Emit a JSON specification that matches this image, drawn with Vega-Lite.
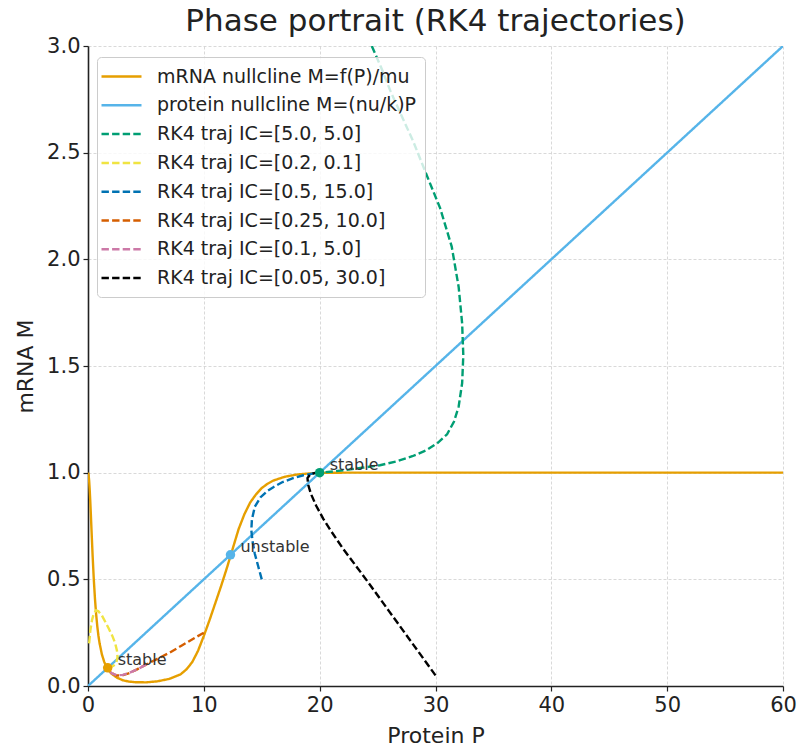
{
  "$schema": "https://vega.github.io/schema/vega-lite/v6.json",
  "autosize": {"type": "none"},
  "width": 695,
  "height": 640,
  "padding": {"left": 88, "top": 46, "right": 16, "bottom": 61},
  "background": "white",
  "view": {"stroke": null},
  "config": {
    "font": "DejaVu Sans",
    "axis": {
      "labelFont": "DejaVu Sans", "titleFont": "DejaVu Sans",
      "labelFontSize": 21, "titleFontSize": 22, "titleFontWeight": "normal",
      "labelColor": "#222", "titleColor": "#222",
      "tickColor": "#222", "tickSize": 5, "tickWidth": 1.2,
      "domainColor": "#222", "domainWidth": 1.6,
      "gridColor": "#cfcfcf", "gridDash": [3, 2], "gridWidth": 0.8,
      "labelFlush": false, "labelOverlap": false
    }
  },
  "title": {
    "text": "Phase portrait (RK4 trajectories)",
    "font": "DejaVu Sans", "fontSize": 31, "fontWeight": "normal", "color": "#222",
    "frame": "group", "anchor": "middle", "offset": -3
  },
  "layer": [
    {
      "data": {"values": [
        {"s":"mRNA nullcline M=f(P)/mu","i":0,"P":0,"M":1.0},
        {"s":"mRNA nullcline M=f(P)/mu","i":1,"P":0.05,"M":0.99},
        {"s":"mRNA nullcline M=f(P)/mu","i":2,"P":0.1,"M":0.962},
        {"s":"mRNA nullcline M=f(P)/mu","i":3,"P":0.15,"M":0.917},
        {"s":"mRNA nullcline M=f(P)/mu","i":4,"P":0.2,"M":0.862},
        {"s":"mRNA nullcline M=f(P)/mu","i":5,"P":0.25,"M":0.8},
        {"s":"mRNA nullcline M=f(P)/mu","i":6,"P":0.3,"M":0.735},
        {"s":"mRNA nullcline M=f(P)/mu","i":7,"P":0.4,"M":0.61},
        {"s":"mRNA nullcline M=f(P)/mu","i":8,"P":0.5,"M":0.5},
        {"s":"mRNA nullcline M=f(P)/mu","i":9,"P":0.6,"M":0.41},
        {"s":"mRNA nullcline M=f(P)/mu","i":10,"P":0.7,"M":0.338},
        {"s":"mRNA nullcline M=f(P)/mu","i":11,"P":0.8,"M":0.281},
        {"s":"mRNA nullcline M=f(P)/mu","i":12,"P":0.9,"M":0.236},
        {"s":"mRNA nullcline M=f(P)/mu","i":13,"P":1.0,"M":0.2},
        {"s":"mRNA nullcline M=f(P)/mu","i":14,"P":1.2,"M":0.148},
        {"s":"mRNA nullcline M=f(P)/mu","i":15,"P":1.4,"M":0.113},
        {"s":"mRNA nullcline M=f(P)/mu","i":16,"P":1.6,"M":0.089},
        {"s":"mRNA nullcline M=f(P)/mu","i":17,"P":1.8,"M":0.072},
        {"s":"mRNA nullcline M=f(P)/mu","i":18,"P":2.0,"M":0.059},
        {"s":"mRNA nullcline M=f(P)/mu","i":19,"P":2.5,"M":0.039},
        {"s":"mRNA nullcline M=f(P)/mu","i":20,"P":3.0,"M":0.027},
        {"s":"mRNA nullcline M=f(P)/mu","i":21,"P":3.5,"M":0.021},
        {"s":"mRNA nullcline M=f(P)/mu","i":22,"P":4.0,"M":0.018},
        {"s":"mRNA nullcline M=f(P)/mu","i":23,"P":5.0,"M":0.017},
        {"s":"mRNA nullcline M=f(P)/mu","i":24,"P":6.0,"M":0.022},
        {"s":"mRNA nullcline M=f(P)/mu","i":25,"P":7.0,"M":0.033},
        {"s":"mRNA nullcline M=f(P)/mu","i":26,"P":8.0,"M":0.055},
        {"s":"mRNA nullcline M=f(P)/mu","i":27,"P":8.5,"M":0.078},
        {"s":"mRNA nullcline M=f(P)/mu","i":28,"P":9.0,"M":0.112},
        {"s":"mRNA nullcline M=f(P)/mu","i":29,"P":9.5,"M":0.165},
        {"s":"mRNA nullcline M=f(P)/mu","i":30,"P":10.0,"M":0.235},
        {"s":"mRNA nullcline M=f(P)/mu","i":31,"P":10.5,"M":0.31},
        {"s":"mRNA nullcline M=f(P)/mu","i":32,"P":11.0,"M":0.39},
        {"s":"mRNA nullcline M=f(P)/mu","i":33,"P":11.5,"M":0.47},
        {"s":"mRNA nullcline M=f(P)/mu","i":34,"P":12.0,"M":0.555},
        {"s":"mRNA nullcline M=f(P)/mu","i":35,"P":12.5,"M":0.645},
        {"s":"mRNA nullcline M=f(P)/mu","i":36,"P":13.0,"M":0.735},
        {"s":"mRNA nullcline M=f(P)/mu","i":37,"P":13.5,"M":0.805},
        {"s":"mRNA nullcline M=f(P)/mu","i":38,"P":14.0,"M":0.86},
        {"s":"mRNA nullcline M=f(P)/mu","i":39,"P":14.5,"M":0.898},
        {"s":"mRNA nullcline M=f(P)/mu","i":40,"P":15.0,"M":0.928},
        {"s":"mRNA nullcline M=f(P)/mu","i":41,"P":15.5,"M":0.948},
        {"s":"mRNA nullcline M=f(P)/mu","i":42,"P":16.0,"M":0.963},
        {"s":"mRNA nullcline M=f(P)/mu","i":43,"P":17.0,"M":0.981},
        {"s":"mRNA nullcline M=f(P)/mu","i":44,"P":18.0,"M":0.991},
        {"s":"mRNA nullcline M=f(P)/mu","i":45,"P":19.0,"M":0.996},
        {"s":"mRNA nullcline M=f(P)/mu","i":46,"P":20.0,"M":0.999},
        {"s":"mRNA nullcline M=f(P)/mu","i":47,"P":22.0,"M":1.0},
        {"s":"mRNA nullcline M=f(P)/mu","i":48,"P":60.0,"M":1.0},
        {"s":"protein nullcline M=(nu/k)P","i":0,"P":0,"M":0},
        {"s":"protein nullcline M=(nu/k)P","i":1,"P":60,"M":3.0},
        {"s":"RK4 traj IC=[5.0, 5.0]","i":0,"P":24.5,"M":3.0},
        {"s":"RK4 traj IC=[5.0, 5.0]","i":1,"P":25.3,"M":2.9},
        {"s":"RK4 traj IC=[5.0, 5.0]","i":2,"P":26.1,"M":2.79},
        {"s":"RK4 traj IC=[5.0, 5.0]","i":3,"P":27.1,"M":2.67},
        {"s":"RK4 traj IC=[5.0, 5.0]","i":4,"P":28.1,"M":2.55},
        {"s":"RK4 traj IC=[5.0, 5.0]","i":5,"P":29.2,"M":2.4},
        {"s":"RK4 traj IC=[5.0, 5.0]","i":6,"P":30.4,"M":2.24},
        {"s":"RK4 traj IC=[5.0, 5.0]","i":7,"P":31.4,"M":2.06},
        {"s":"RK4 traj IC=[5.0, 5.0]","i":8,"P":32.0,"M":1.87},
        {"s":"RK4 traj IC=[5.0, 5.0]","i":9,"P":32.3,"M":1.7},
        {"s":"RK4 traj IC=[5.0, 5.0]","i":10,"P":32.4,"M":1.55},
        {"s":"RK4 traj IC=[5.0, 5.0]","i":11,"P":32.3,"M":1.42},
        {"s":"RK4 traj IC=[5.0, 5.0]","i":12,"P":32.0,"M":1.31},
        {"s":"RK4 traj IC=[5.0, 5.0]","i":13,"P":31.6,"M":1.24},
        {"s":"RK4 traj IC=[5.0, 5.0]","i":14,"P":31.0,"M":1.18},
        {"s":"RK4 traj IC=[5.0, 5.0]","i":15,"P":30.2,"M":1.14},
        {"s":"RK4 traj IC=[5.0, 5.0]","i":16,"P":29.2,"M":1.105},
        {"s":"RK4 traj IC=[5.0, 5.0]","i":17,"P":28.0,"M":1.077},
        {"s":"RK4 traj IC=[5.0, 5.0]","i":18,"P":26.6,"M":1.052},
        {"s":"RK4 traj IC=[5.0, 5.0]","i":19,"P":25.2,"M":1.035},
        {"s":"RK4 traj IC=[5.0, 5.0]","i":20,"P":23.8,"M":1.024},
        {"s":"RK4 traj IC=[5.0, 5.0]","i":21,"P":22.5,"M":1.014},
        {"s":"RK4 traj IC=[5.0, 5.0]","i":22,"P":21.2,"M":1.006},
        {"s":"RK4 traj IC=[5.0, 5.0]","i":23,"P":20.0,"M":1.0},
        {"s":"RK4 traj IC=[0.2, 0.1]","i":0,"P":0.1,"M":0.2},
        {"s":"RK4 traj IC=[0.2, 0.1]","i":1,"P":0.2,"M":0.26},
        {"s":"RK4 traj IC=[0.2, 0.1]","i":2,"P":0.35,"M":0.31},
        {"s":"RK4 traj IC=[0.2, 0.1]","i":3,"P":0.5,"M":0.34},
        {"s":"RK4 traj IC=[0.2, 0.1]","i":4,"P":0.7,"M":0.355},
        {"s":"RK4 traj IC=[0.2, 0.1]","i":5,"P":0.9,"M":0.35},
        {"s":"RK4 traj IC=[0.2, 0.1]","i":6,"P":1.2,"M":0.33},
        {"s":"RK4 traj IC=[0.2, 0.1]","i":7,"P":1.5,"M":0.3},
        {"s":"RK4 traj IC=[0.2, 0.1]","i":8,"P":1.8,"M":0.268},
        {"s":"RK4 traj IC=[0.2, 0.1]","i":9,"P":2.1,"M":0.235},
        {"s":"RK4 traj IC=[0.2, 0.1]","i":10,"P":2.35,"M":0.2},
        {"s":"RK4 traj IC=[0.2, 0.1]","i":11,"P":2.5,"M":0.165},
        {"s":"RK4 traj IC=[0.2, 0.1]","i":12,"P":2.55,"M":0.135},
        {"s":"RK4 traj IC=[0.2, 0.1]","i":13,"P":2.45,"M":0.11},
        {"s":"RK4 traj IC=[0.2, 0.1]","i":14,"P":2.2,"M":0.095},
        {"s":"RK4 traj IC=[0.2, 0.1]","i":15,"P":1.95,"M":0.089},
        {"s":"RK4 traj IC=[0.2, 0.1]","i":16,"P":1.7,"M":0.085},
        {"s":"RK4 traj IC=[0.5, 15.0]","i":0,"P":15.0,"M":0.5},
        {"s":"RK4 traj IC=[0.5, 15.0]","i":1,"P":14.7,"M":0.56},
        {"s":"RK4 traj IC=[0.5, 15.0]","i":2,"P":14.4,"M":0.62},
        {"s":"RK4 traj IC=[0.5, 15.0]","i":3,"P":14.2,"M":0.68},
        {"s":"RK4 traj IC=[0.5, 15.0]","i":4,"P":14.1,"M":0.73},
        {"s":"RK4 traj IC=[0.5, 15.0]","i":5,"P":14.15,"M":0.78},
        {"s":"RK4 traj IC=[0.5, 15.0]","i":6,"P":14.4,"M":0.84},
        {"s":"RK4 traj IC=[0.5, 15.0]","i":7,"P":14.9,"M":0.885},
        {"s":"RK4 traj IC=[0.5, 15.0]","i":8,"P":15.5,"M":0.915},
        {"s":"RK4 traj IC=[0.5, 15.0]","i":9,"P":16.0,"M":0.932},
        {"s":"RK4 traj IC=[0.5, 15.0]","i":10,"P":16.8,"M":0.956},
        {"s":"RK4 traj IC=[0.5, 15.0]","i":11,"P":17.7,"M":0.974},
        {"s":"RK4 traj IC=[0.5, 15.0]","i":12,"P":18.6,"M":0.988},
        {"s":"RK4 traj IC=[0.5, 15.0]","i":13,"P":19.4,"M":0.996},
        {"s":"RK4 traj IC=[0.5, 15.0]","i":14,"P":20.0,"M":1.0},
        {"s":"RK4 traj IC=[0.25, 10.0]","i":0,"P":10.0,"M":0.25},
        {"s":"RK4 traj IC=[0.25, 10.0]","i":1,"P":9.2,"M":0.225},
        {"s":"RK4 traj IC=[0.25, 10.0]","i":2,"P":8.1,"M":0.19},
        {"s":"RK4 traj IC=[0.25, 10.0]","i":3,"P":7.0,"M":0.155},
        {"s":"RK4 traj IC=[0.25, 10.0]","i":4,"P":5.9,"M":0.125},
        {"s":"RK4 traj IC=[0.25, 10.0]","i":5,"P":5.0,"M":0.1},
        {"s":"RK4 traj IC=[0.25, 10.0]","i":6,"P":4.2,"M":0.077},
        {"s":"RK4 traj IC=[0.25, 10.0]","i":7,"P":3.5,"M":0.059},
        {"s":"RK4 traj IC=[0.25, 10.0]","i":8,"P":2.9,"M":0.049},
        {"s":"RK4 traj IC=[0.25, 10.0]","i":9,"P":2.4,"M":0.05},
        {"s":"RK4 traj IC=[0.25, 10.0]","i":10,"P":2.0,"M":0.063},
        {"s":"RK4 traj IC=[0.25, 10.0]","i":11,"P":1.7,"M":0.085},
        {"s":"RK4 traj IC=[0.1, 5.0]","i":0,"P":5.0,"M":0.1},
        {"s":"RK4 traj IC=[0.1, 5.0]","i":1,"P":4.5,"M":0.085},
        {"s":"RK4 traj IC=[0.1, 5.0]","i":2,"P":4.0,"M":0.072},
        {"s":"RK4 traj IC=[0.1, 5.0]","i":3,"P":3.5,"M":0.06},
        {"s":"RK4 traj IC=[0.1, 5.0]","i":4,"P":3.0,"M":0.052},
        {"s":"RK4 traj IC=[0.1, 5.0]","i":5,"P":2.5,"M":0.05},
        {"s":"RK4 traj IC=[0.1, 5.0]","i":6,"P":2.1,"M":0.058},
        {"s":"RK4 traj IC=[0.1, 5.0]","i":7,"P":1.85,"M":0.07},
        {"s":"RK4 traj IC=[0.1, 5.0]","i":8,"P":1.7,"M":0.085},
        {"s":"RK4 traj IC=[0.05, 30.0]","i":0,"P":30.0,"M":0.05},
        {"s":"RK4 traj IC=[0.05, 30.0]","i":1,"P":28.0,"M":0.2},
        {"s":"RK4 traj IC=[0.05, 30.0]","i":2,"P":26.0,"M":0.35},
        {"s":"RK4 traj IC=[0.05, 30.0]","i":3,"P":24.0,"M":0.5},
        {"s":"RK4 traj IC=[0.05, 30.0]","i":4,"P":22.0,"M":0.645},
        {"s":"RK4 traj IC=[0.05, 30.0]","i":5,"P":21.0,"M":0.725},
        {"s":"RK4 traj IC=[0.05, 30.0]","i":6,"P":20.3,"M":0.785},
        {"s":"RK4 traj IC=[0.05, 30.0]","i":7,"P":19.7,"M":0.845},
        {"s":"RK4 traj IC=[0.05, 30.0]","i":8,"P":19.25,"M":0.9},
        {"s":"RK4 traj IC=[0.05, 30.0]","i":9,"P":19.0,"M":0.945},
        {"s":"RK4 traj IC=[0.05, 30.0]","i":10,"P":18.95,"M":0.975},
        {"s":"RK4 traj IC=[0.05, 30.0]","i":11,"P":19.2,"M":0.993},
        {"s":"RK4 traj IC=[0.05, 30.0]","i":12,"P":19.6,"M":0.999},
        {"s":"RK4 traj IC=[0.05, 30.0]","i":13,"P":20.0,"M":1.0}
      ]},
      "mark": {"type": "line", "strokeWidth": 2.4, "clip": true},
      "encoding": {
        "x": {"field": "P", "type": "quantitative", "title": "Protein P",
              "scale": {"domain": [0, 60], "nice": false, "zero": false},
              "axis": {"values": [0, 10, 20, 30, 40, 50, 60], "labelPadding": 3, "titleY": 56, "titleBaseline": "alphabetic"}},
        "y": {"field": "M", "type": "quantitative", "title": "mRNA M",
              "scale": {"domain": [0, 3], "nice": false, "zero": false},
              "axis": {"values": [0, 0.5, 1, 1.5, 2, 2.5, 3], "format": ".1f", "labelPadding": 3, "titleX": -56, "titleY": 320, "titleAngle": -90, "titleBaseline": "alphabetic", "titleAlign": "center"}},
        "order": {"field": "i", "type": "quantitative"},
        "color": {"field": "s", "type": "nominal",
          "scale": {
            "domain": ["mRNA nullcline M=f(P)/mu", "protein nullcline M=(nu/k)P", "RK4 traj IC=[5.0, 5.0]", "RK4 traj IC=[0.2, 0.1]", "RK4 traj IC=[0.5, 15.0]", "RK4 traj IC=[0.25, 10.0]", "RK4 traj IC=[0.1, 5.0]", "RK4 traj IC=[0.05, 30.0]"],
            "range": ["#E69F00", "#56B4E9", "#009E73", "#F0E442", "#0072B2", "#D55E00", "#CC79A7", "#000000"]
          },
          "legend": {"title": null, "orient": "none", "legendX": 9, "legendY": 11,
            "symbolType": "M-2,0H2", "symbolSize": 400, "symbolStrokeWidth": 2.5, "symbolOffset": 5,
            "labelFont": "DejaVu Sans", "labelFontSize": 19, "labelColor": "#222", "labelLimit": 500,
            "labelOffset": 24, "rowPadding": 6.8, "padding": 8,
            "fillColor": "rgba(255,255,255,0.8)", "strokeColor": "#cccccc", "cornerRadius": 4}
        },
        "strokeDash": {"field": "s", "type": "nominal",
          "scale": {
            "domain": ["mRNA nullcline M=f(P)/mu", "protein nullcline M=(nu/k)P", "RK4 traj IC=[5.0, 5.0]", "RK4 traj IC=[0.2, 0.1]", "RK4 traj IC=[0.5, 15.0]", "RK4 traj IC=[0.25, 10.0]", "RK4 traj IC=[0.1, 5.0]", "RK4 traj IC=[0.05, 30.0]"],
            "range": [[1, 0], [1, 0], [7.4, 3.2], [7.4, 3.2], [7.4, 3.2], [7.4, 3.2], [7.4, 3.2], [7.4, 3.2]]
          },
          "legend": {"title": null, "orient": "none", "legendX": 9, "legendY": 11,
            "symbolType": "M-2,0H2", "symbolSize": 400, "symbolStrokeWidth": 2.5, "symbolOffset": 5,
            "labelFont": "DejaVu Sans", "labelFontSize": 19, "labelColor": "#222", "labelLimit": 500,
            "labelOffset": 24, "rowPadding": 6.8, "padding": 8,
            "fillColor": "rgba(255,255,255,0.8)", "strokeColor": "#cccccc", "cornerRadius": 4}
        }
      }
    },
    {
      "data": {"values": [
        {"P": 1.7, "M": 0.085, "kind": "low", "label": "stable"},
        {"P": 12.3, "M": 0.615, "kind": "mid", "label": "unstable"},
        {"P": 20.0, "M": 1.0, "kind": "high", "label": "stable"}
      ]},
      "layer": [
        {
          "mark": {"type": "point", "filled": true, "size": 90, "opacity": 1},
          "encoding": {
            "x": {"field": "P", "type": "quantitative"},
            "y": {"field": "M", "type": "quantitative"},
            "fill": {"field": "kind", "type": "nominal", "legend": null,
              "scale": {"domain": ["low", "mid", "high"], "range": ["#E69F00", "#56B4E9", "#009E73"]}}
          }
        },
        {
          "mark": {"type": "text", "align": "left", "baseline": "middle", "dx": 10, "dy": -8, "fontSize": 16, "font": "DejaVu Sans", "color": "#333"},
          "encoding": {
            "x": {"field": "P", "type": "quantitative"},
            "y": {"field": "M", "type": "quantitative"},
            "text": {"field": "label"}
          }
        }
      ]
    }
  ]
}
